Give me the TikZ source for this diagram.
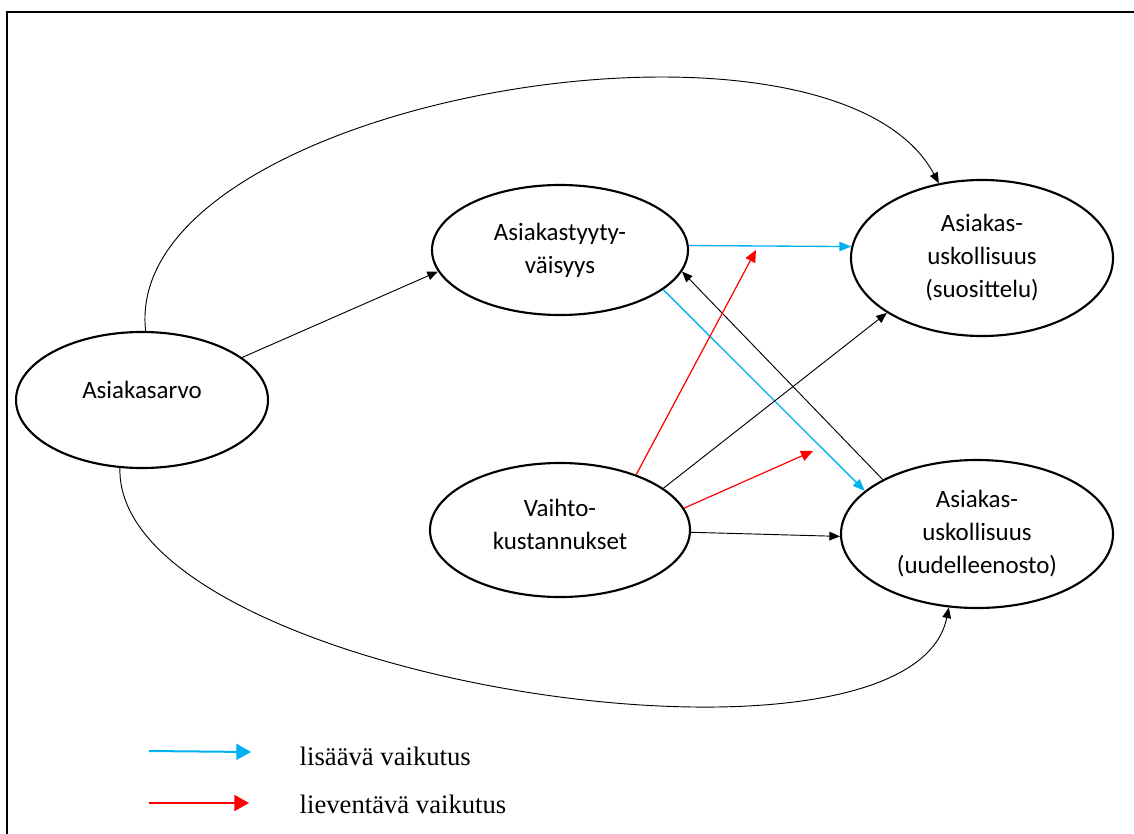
\documentclass[tikz,border=0pt]{standalone}
\usepackage{fontspec}
\setmainfont{Liberation Serif}
\newfontfamily\calibri{Carlito}
\usepackage{tikz}
\usetikzlibrary{arrows.meta,shapes.geometric}

\definecolor{lisaa}{RGB}{0,176,240}
\definecolor{lievenna}{RGB}{255,0,0}

\begin{document}
\begin{tikzpicture}[
            x = 0.75pt, y = -0.75pt, % pixel grid, y grows downwards
            > = {Triangle[length=8pt,width=6.5pt]}, % arrow head style
            concept/.style = {ellipse, draw, line width=1.6pt, inner sep=0pt,
                align=center, font=\calibri\fontsize{18.7}{24.7}\selectfont},
            link/.style = {->, line width=0.7pt},
            lisays/.style = {->, color=lisaa, line width=1pt, >={Triangle[length=9pt,width=7pt]}},
            lievennys/.style = {->, color=lievenna, line width=0.9pt, >={Triangle[length=9pt,width=8pt]}},
            legend/.style = {anchor=base west, font=\fontsize{20}{24}\selectfont}
        ]
	\useasboundingbox (0,0) rectangle (1134,834);
	\draw[line width=1.5pt] (1134,12) -- (7,12) -- (7,834);

	\node[concept, minimum width=189pt, minimum height=102pt, text depth=15pt] (arvo) at (142,400) {Asiakasarvo};
	\node[concept, minimum width=192pt, minimum height=97.5pt] (tyyty) at (560,250) {Asiakastyyty-\\väisyys};
	\node[concept, minimum width=196.5pt, minimum height=117pt] (suos) at (982,258) {Asiakas-\\uskollisuus\\(suosittelu)};
	\node[concept, minimum width=195pt, minimum height=100.5pt, text depth=9pt] (vaihto) at (560,530) {Vaihto-\\kustannukset};
	\node[concept, minimum width=204pt, minimum height=111pt] (uudel) at (977,534) {Asiakas-\\uskollisuus\\(uudelleenosto)};

	\coordinate (mod1) at (756,250);
	\coordinate (mod2) at (813,451);

	\draw[link] (arvo.23) -- (tyyty.190);
	\draw[link] (arvo.87) .. controls (120,100) and (830,-20) .. (suos.120);
	\draw[link] (arvo.252) .. controls (115,680) and (910,800) .. (uudel.249);
	\draw[lisays] (tyyty.2) -- (suos.175);
	\draw[lisays] (tyyty.339) -- (uudel.159);
	\draw[link] (uudel.150) -- (tyyty.350);
	\draw[link] (vaihto.22) -- (suos.210);
	\draw[link] (vaihto.359) -- (uudel.181);
	\draw[lievennys] (vaihto.36) -- (mod1);
	\draw[lievennys] (vaihto.10) -- (mod2);

	% selite
	\coordinate (s1a) at (149,751);
	\coordinate (s1b) at (251,752);
	\coordinate (s2a) at (149,803);
	\coordinate (s2b) at (249,803);
	\draw[lisays, line width=1.5pt, >={Triangle[length=11pt,width=12pt]}] (s1a) -- (s1b);
	\draw[lievennys, line width=1.5pt, >={Triangle[length=11pt,width=12pt]}] (s2a) -- (s2b);
	\node[legend] (s1) at (295,765) {lisäävä vaikutus};
	\node[legend] (s2) at (295,813) {lieventävä vaikutus};
\end{tikzpicture}
\end{document}
